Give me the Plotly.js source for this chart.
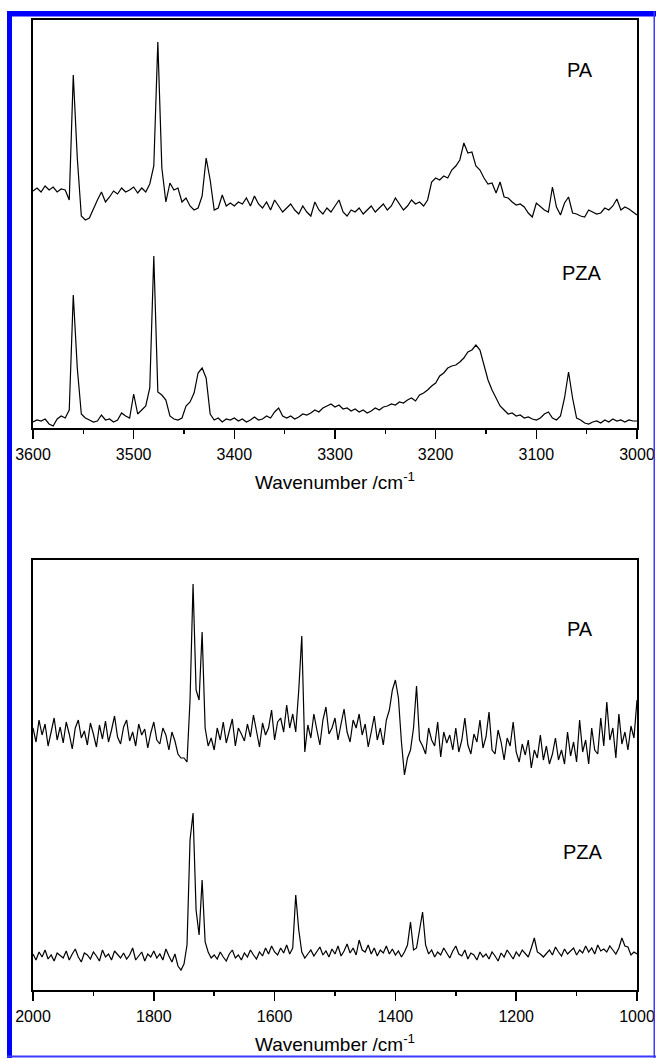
<!DOCTYPE html>
<html>
<head>
<meta charset="utf-8">
<script src="https://cdn.plot.ly/plotly-3.0.1.min.js"></script>
<style>html,body{margin:0;padding:0;background:#fff;}#chart{width:656px;height:1058px;}</style>
</head>
<body>
<div id="chart"></div>
<script>
// ---- Top panel: 3600 -> 3000 cm-1, step 4 ----
const topStart = 3600, topStep = 4;
const topPA = [
  237,240,236,242,238,241,236,239,238,228,
  353,270,212,208,210,220,228,236,226,231,
  237,234,240,236,238,241,235,240,236,244,
  262,386,260,226,245,238,240,226,230,222,
  218,220,232,270,248,218,220,233,222,225,
  222,226,224,230,222,232,224,220,226,218,
  228,222,216,220,224,218,214,222,216,212,
  226,218,214,220,216,222,228,216,212,218,
  216,220,214,218,222,216,220,224,218,222,
  230,224,218,222,228,224,226,222,228,246,
  250,248,252,250,258,262,268,285,275,276,
  262,258,250,244,245,235,246,231,230,226,
  223,224,221,215,211,225,221,218,216,241,
  221,213,225,231,215,214,212,211,218,216,
  214,215,220,218,222,229,218,221,219,216,
  213
];
const topPZA = [
  6,8,7,9,4,2,9,12,10,18,
  133,60,14,10,8,6,7,13,8,9,
  6,8,15,12,10,34,14,18,22,40,
  172,36,33,28,12,9,8,10,22,26,
  35,55,60,50,14,8,10,6,9,8,
  10,7,9,6,8,11,8,9,12,10,
  16,20,12,10,12,9,11,14,13,15,
  18,16,20,22,24,21,23,19,20,17,
  19,16,18,15,17,20,18,21,22,24,
  23,26,25,28,30,27,33,35,38,42,
  45,52,55,60,62,63,66,70,76,78,
  83,78,62,48,38,30,22,18,14,15,
  12,13,10,11,9,8,10,14,16,10,
  8,12,30,56,30,10,8,5,4,6,
  7,5,8,6,9,7,8,6,8,7,
  7
];
// ---- Bottom panel: 2000 -> 1000 cm-1, step 5 ----
const botStart = 2000, botStep = 5;
const botPA = [
  262,248,270,255,266,244,258,272,250,263,
  247,268,256,241,262,270,252,259,245,267,
  256,243,265,251,269,248,260,274,253,246,
  263,270,249,258,244,266,255,261,242,257,
  268,250,246,262,255,240,258,249,236,232,
  232,228,290,406,300,290,358,262,244,252,
  240,262,250,268,247,258,271,244,262,256,
  249,266,253,275,258,243,267,255,262,280,
  250,268,272,258,285,262,276,258,300,354,
  238,265,252,276,260,245,270,283,256,262,
  272,250,266,281,258,248,270,262,276,255,
  266,243,258,274,250,262,245,270,280,300,
  310,292,248,215,232,240,262,304,250,244,
  236,262,250,244,268,233,258,247,255,240,
  262,238,250,272,245,236,256,248,270,242,
  253,278,240,236,260,248,230,252,244,268,
  238,228,246,235,250,222,240,232,255,230,
  244,226,236,252,230,240,226,258,234,248,
  228,270,238,250,226,262,240,236,272,244,
  288,250,262,232,276,246,258,240,264,252,
  290
];
const botPZA = [
  36,30,38,33,40,31,35,29,37,34,
  32,39,30,36,41,33,28,37,35,31,
  38,34,29,40,33,36,30,39,35,32,
  37,31,35,42,30,34,38,29,36,33,
  39,32,36,30,41,34,28,36,24,20,
  26,45,150,177,80,55,110,48,38,32,
  35,31,38,33,29,36,40,32,35,30,
  37,33,40,35,31,38,34,42,36,44,
  38,35,42,37,45,36,42,95,60,38,
  32,36,40,34,38,43,35,39,33,41,
  36,44,34,39,46,37,42,35,50,40,
  38,45,36,42,34,40,37,44,36,41,
  35,39,33,38,45,68,40,42,60,78,
  45,36,40,33,38,35,42,37,32,39,
  44,36,34,40,31,37,35,30,38,33,
  36,31,38,34,29,37,33,40,35,31,
  38,34,40,36,33,42,52,38,36,33,
  37,40,35,43,38,34,41,36,39,42,
  35,40,37,44,38,42,36,45,39,41,
  38,44,40,36,42,52,44,43,35,38,
  36
];
const topTicks = [3600,3500,3400,3300,3200,3100,3000];
const botTicks = [2000,1800,1600,1400,1200,1000];
const seriesNames = ['PA','PZA'];
const xTitle = 'Wavenumber /cm<sup>-1</sup>';

function grid(start, step, n){ const a=[]; for(let i=0;i<n;i++) a.push(start - i*step); return a; }

const W = 656, H = 1058;
const px = v => v / W, py = v => 1 - v / H;
const FONT = 'Liberation Sans, Arial, sans-serif';
const lineStyle = {color:'#000', width:1.2};

const traces = [
  {x: grid(topStart, topStep, topPA.length), y: topPA, xaxis:'x', yaxis:'y', mode:'lines', line:lineStyle, name:seriesNames[0]},
  {x: grid(topStart, topStep, topPZA.length), y: topPZA, xaxis:'x', yaxis:'y', mode:'lines', line:lineStyle, name:seriesNames[1]},
  {x: grid(botStart, botStep, botPA.length), y: botPA, xaxis:'x2', yaxis:'y2', mode:'lines', line:lineStyle, name:seriesNames[0]},
  {x: grid(botStart, botStep, botPZA.length), y: botPZA, xaxis:'x2', yaxis:'y2', mode:'lines', line:lineStyle, name:seriesNames[1]}
];

function xax(range, ticks, anchor, minorStep){
  return {
    domain:[px(33), px(637)], range: range, anchor: anchor,
    tickmode:'array', tickvals: ticks, ticktext: ticks.map(String),
    ticks:'outside', ticklen:9, tickwidth:1.5, tickcolor:'#000', ticklabelstandoff:2,
    minor:{ticks:'outside', ticklen:4, tickwidth:1.5, tickcolor:'#000', dtick:minorStep, tick0:0, showgrid:false},
    showline:true, linewidth:1.8, linecolor:'#000', mirror:true,
    showgrid:false, zeroline:false, automargin:false,
    tickfont:{family:FONT, size:16, color:'#000'},
    title:{text:xTitle, standoff:14, font:{family:FONT, size:19, color:'#000'}}
  };
}
function yax(domain, range, anchor){
  return {
    domain: domain, range: range, anchor: anchor,
    showline:true, linewidth:1.8, linecolor:'#000', mirror:true,
    showticklabels:false, ticks:'', showgrid:false, zeroline:false, automargin:false, fixedrange:true
  };
}

const ann = (text, x, y, xref, yref) => ({text:text, x:x, y:y, xref:xref, yref:yref, showarrow:false,
  font:{family:FONT, size:20, color:'#000'}, xanchor:'center', yanchor:'middle'});

const layout = {
  width:W, height:H, margin:{l:0,r:0,t:0,b:0}, showlegend:false,
  paper_bgcolor:'#fff', plot_bgcolor:'#fff',
  xaxis: xax([3600,3000], topTicks, 'y', 50),
  yaxis: yax([py(428), py(20)], [0,408], 'x'),
  xaxis2: xax([2000,1000], botTicks, 'y2', 100),
  yaxis2: yax([py(990), py(560)], [0,430], 'x2'),
  annotations:[
    ann(seriesNames[0], 3057, 358, 'x', 'y'),
    ann(seriesNames[1], 3055, 155, 'x', 'y'),
    ann(seriesNames[0], 1094, 361, 'x2', 'y2'),
    ann(seriesNames[1], 1089, 138, 'x2', 'y2')
  ],
  shapes:[
    {type:'rect', xref:'paper', yref:'paper', x0:px(7), x1:px(12), y0:py(1058), y1:py(11), fillcolor:'#0000ff', line:{width:0}, layer:'above'},
    {type:'rect', xref:'paper', yref:'paper', x0:px(7), x1:px(656), y0:py(16.5), y1:py(11), fillcolor:'#0000ff', line:{width:0}, layer:'above'},
    {type:'rect', xref:'paper', yref:'paper', x0:px(653.5), x1:px(655), y0:py(1058), y1:py(11), fillcolor:'#3b3bff', line:{width:0}, layer:'above'},
    {type:'rect', xref:'paper', yref:'paper', x0:px(7), x1:px(656), y0:py(1057.5), y1:py(1055.5), fillcolor:'#3b3bff', line:{width:0}, layer:'above'}
  ]
};

Plotly.newPlot('chart', traces, layout, {staticPlot:true, displayModeBar:false});
</script>
</body>
</html>
